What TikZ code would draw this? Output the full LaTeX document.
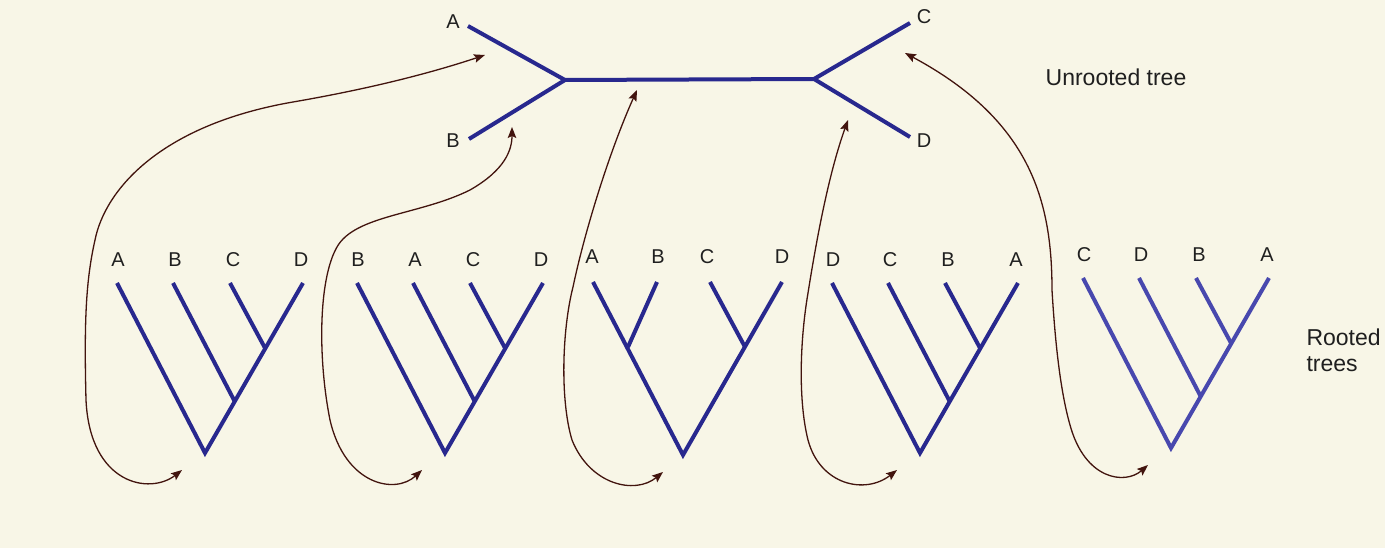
\documentclass[tikz,border=0pt]{standalone}
\usepackage{fontspec}
\setmainfont{Liberation Sans}
\usetikzlibrary{arrows.meta}

\definecolor{paper}{RGB}{248,246,231}
\definecolor{treeblue}{RGB}{40,40,142}
\definecolor{lightblue}{RGB}{72,72,174}
\definecolor{linkbrown}{RGB}{66,20,14}

\tikzset{
  branch/.style={line width=4pt},
  tiplabel/.style={font=\fontsize{20}{24}\selectfont, text=black!88},
  caption/.style={font=\fontsize{23}{26}\selectfont, align=left, text=black!88},
  link/.style={linkbrown, line width=1.3pt,
    {Stealth[length=11pt,width=8.5pt,inset=2pt]}-{Stealth[length=11pt,width=8.5pt,inset=2pt]}},
}

\begin{document}
\begin{tikzpicture}[x=1pt,y=-1pt]
  % background
  \fill[paper] (0,0) rectangle (1385,548);
  \useasboundingbox (0,0) rectangle (1385,548);

  % unrooted tree
  \coordinate (uA) at (468,26);
  \coordinate (uB) at (469,139);
  \coordinate (uL) at (565,80);
  \coordinate (uR) at (814,79);
  \coordinate (uC) at (910,23);
  \coordinate (uD) at (910,137);
  \draw[branch, treeblue] (uA) -- (uL) -- (uR) -- (uC);
  \draw[branch, treeblue] (uB) -- (uL);
  \draw[branch, treeblue] (uD) -- (uR);
  \node[tiplabel] (nA) at (453,22) {A};
  \node[tiplabel] (nB) at (453,141) {B};
  \node[tiplabel] (nC) at (924,17) {C};
  \node[tiplabel] (nD) at (924,141) {D};
  \node[caption] (unrooted) at (1116,77) {Unrooted tree};

  % arrow targets on the unrooted tree
  \coordinate (u1) at (485,55);
  \coordinate (u2) at (512,127);
  \coordinate (u3) at (637,90);
  \coordinate (u4) at (848,120);
  \coordinate (u5) at (905,53);

  % rooted trees (comb shape)
  \foreach \dx/\dy/\n/\la/\lb/\lc/\ld/\col in {0/0/1/A/B/C/D/treeblue,
      240/0/2/B/A/C/D/treeblue, 715/0/4/D/C/B/A/treeblue,
      966/-5/5/C/D/B/A/lightblue}{
    \coordinate (r\n) at (\dx+205,\dy+453);
    \coordinate (r\n-a) at (\dx+117,\dy+283);
    \coordinate (r\n-b) at (\dx+173,\dy+283);
    \coordinate (r\n-c) at (\dx+230,\dy+283);
    \coordinate (r\n-d) at (\dx+303,\dy+283);
    \coordinate (r\n-j) at (\dx+235,\dy+402);
    \coordinate (r\n-k) at (\dx+265,\dy+348);
    \draw[branch, \col] (r\n-a) -- (r\n) -- (r\n-d);
    \draw[branch, \col] (r\n-b) -- (r\n-j);
    \draw[branch, \col] (r\n-c) -- (r\n-k);
    \node[tiplabel] (l\n-a) at (\dx+118,\dy+260) {\la};
    \node[tiplabel] (l\n-b) at (\dx+175,\dy+260) {\lb};
    \node[tiplabel] (l\n-c) at (\dx+233,\dy+260) {\lc};
    \node[tiplabel] (l\n-d) at (\dx+301,\dy+260) {\ld};
    \coordinate (p\n) at (\dx+182,\dy+470);
  }

  % rooted tree (balanced)
  \coordinate (r3) at (683,455);
  \coordinate (r3-a) at (593,282);
  \coordinate (r3-b) at (657,282);
  \coordinate (r3-c) at (710,282);
  \coordinate (r3-d) at (782,282);
  \coordinate (r3-j) at (628,347);
  \coordinate (r3-k) at (745,347);
  \draw[branch, treeblue] (r3-a) -- (r3) -- (r3-d);
  \draw[branch, treeblue] (r3-b) -- (r3-j);
  \draw[branch, treeblue] (r3-c) -- (r3-k);
  \node[tiplabel] (l3-a) at (592,257) {A};
  \node[tiplabel] (l3-b) at (658,257) {B};
  \node[tiplabel] (l3-c) at (707,257) {C};
  \node[tiplabel] (l3-d) at (782,257) {D};
  \coordinate (p3) at (663,472);

  \node[caption, anchor=west] (rooted) at (1303,350) {Rooted\\trees};

  % curved links
  \draw[link] (p1) .. controls (150,495) and (90,485) .. (86,400)
    .. controls (84,320) and (86,280) .. (95,240)
    .. controls (105,190) and (160,125) .. (293,102)
    .. controls (380,87) and (440,70) .. (u1);
  \draw[link] (p2) .. controls (395,495) and (345,485) .. (330,420)
    .. controls (318,360) and (318,280) .. (337,247)
    .. controls (355,215) and (420,215) .. (470,190)
    .. controls (505,170) and (512,150) .. (u2);
  \draw[link] (p3) .. controls (635,495) and (590,485) .. (572,440)
    .. controls (560,400) and (562,330) .. (573,287)
    .. controls (585,230) and (610,150) .. (u3);
  \draw[link] (p4) .. controls (865,495) and (820,485) .. (808,440)
    .. controls (798,400) and (800,340) .. (808,293)
    .. controls (818,230) and (830,170) .. (u4);
  \draw[link] (p5) .. controls (1125,485) and (1085,480) .. (1070,425)
    .. controls (1060,390) and (1055,340) .. (1052,290)
    .. controls (1052,200) and (1030,120) .. (u5);
\end{tikzpicture}
\end{document}
